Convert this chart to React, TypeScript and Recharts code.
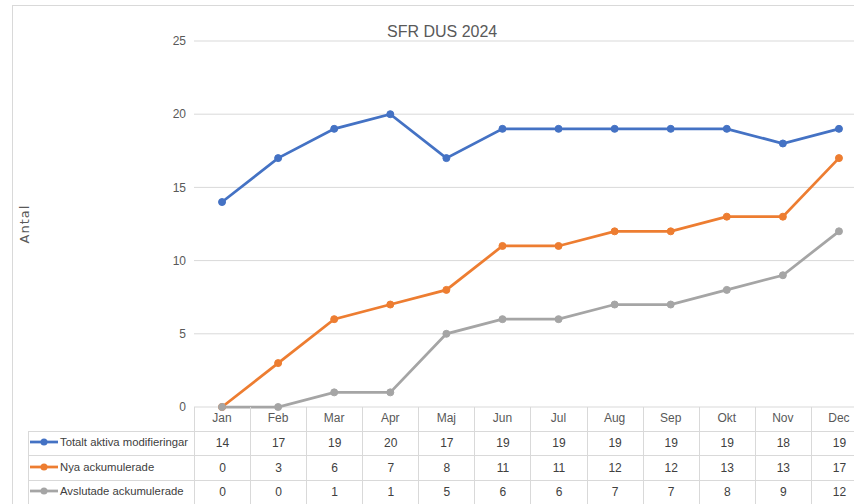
import { CartesianGrid, Line, LineChart, XAxis, YAxis } from 'recharts';

const months = ['Jan', 'Feb', 'Mar', 'Apr', 'Maj', 'Jun', 'Jul', 'Aug', 'Sep', 'Okt', 'Nov', 'Dec'];
const totalt = [14, 17, 19, 20, 17, 19, 19, 19, 19, 19, 18, 19];
const nya = [0, 3, 6, 7, 8, 11, 11, 12, 12, 13, 13, 17];
const avslutade = [0, 0, 1, 1, 5, 6, 6, 7, 7, 8, 9, 12];
const yTicks = [0, 5, 10, 15, 20, 25];

const seriesList = [
    { key: 'totalt', name: 'Totalt aktiva modifieringar', color: '#4472C4', values: totalt },
    { key: 'nya', name: 'Nya ackumulerade', color: '#ED7D31', values: nya },
    { key: 'avslutade', name: 'Avslutade ackumulerade', color: '#A5A5A5', values: avslutade },
];

const data = months.map((m, i) => ({
    month: m,
    totalt: totalt[i],
    nya: nya[i],
    avslutade: avslutade[i],
}));

const font = "'Liberation Sans', Arial, sans-serif";
const textColor = '#595959';
const gridColor = '#d9d9d9';

// plot area: left 194, right 867, top 41, bottom 407
const plotLeft = 194;
const plotRight = 867;
const plotTop = 41;
const plotBottom = 407;
const chartWidth = 870;
const band = (plotRight - plotLeft) / months.length;
const rowH = 24.5;

function App() {
    return (
        <div
            style={{
                position: 'absolute',
                left: 0,
                top: 0,
                width: 854,
                height: 504,
                overflow: 'hidden',
                background: '#fff',
                fontFamily: font,
            }}
        >
            <div
                style={{
                    position: 'absolute',
                    left: 12,
                    top: 5,
                    width: 900,
                    height: 600,
                    borderLeft: `1px solid ${gridColor}`,
                    borderTop: `1px solid ${gridColor}`,
                }}
            />
            <LineChart
                width={chartWidth}
                height={504}
                data={data}
                margin={{ top: plotTop, bottom: 504 - plotBottom - 24, left: 0, right: chartWidth - plotRight }}
                style={{ position: 'absolute', left: 0, top: 0 }}
            >
                <CartesianGrid vertical={false} stroke={gridColor} strokeWidth={1} />
                <XAxis
                    dataKey="month"
                    axisLine={false}
                    tickLine={false}
                    tickSize={0}
                    tickMargin={6}
                    height={24}
                    padding={{ left: band / 2, right: band / 2 }}
                    tick={{ fill: textColor, fontSize: 12, fontFamily: font }}
                    interval={0}
                />
                <YAxis
                    width={plotLeft}
                    domain={[0, 25]}
                    ticks={yTicks}
                    axisLine={false}
                    tickLine={false}
                    tick={{ fill: textColor, fontSize: 12, fontFamily: font }}
                    label={{
                        value: 'Antal',
                        angle: -90,
                        position: 'insideLeft',
                        offset: 24,
                        style: {
                            fill: textColor,
                            fontSize: 13,
                            letterSpacing: 1,
                            fontFamily: 'DejaVu Sans, sans-serif',
                            textAnchor: 'middle',
                        },
                    }}
                />
                {seriesList.map((s) => (
                    <Line
                        key={s.key}
                        dataKey={s.key}
                        name={s.name}
                        stroke={s.color}
                        strokeWidth={2.75}
                        dot={{ r: 3.5, fill: s.color, stroke: s.color, strokeWidth: 1 }}
                        isAnimationActive={false}
                    />
                ))}
            </LineChart>

            <div
                style={{
                    position: 'absolute',
                    left: 387,
                    top: 23,
                    fontSize: 16,
                    color: textColor,
                    fontFamily: font,
                }}
            >
                SFR DUS 2024
            </div>

            <table
                style={{
                    position: 'absolute',
                    left: 28,
                    top: plotBottom,
                    borderCollapse: 'collapse',
                    tableLayout: 'fixed',
                    width: plotLeft - 28 + band * months.length,
                    fontSize: 12,
                    color: '#404040',
                    fontFamily: font,
                }}
            >
                <colgroup>
                    <col style={{ width: plotLeft - 28 }} />
                    {months.map((m) => (
                        <col key={m} style={{ width: band }} />
                    ))}
                </colgroup>
                <tbody>
                    <tr style={{ height: 24 }}>
                        <td style={{ padding: 0, borderBottom: `1px solid ${gridColor}` }} />
                        {months.map((m) => (
                            <td
                                key={m}
                                style={{
                                    padding: 0,
                                    borderLeft: `1px solid ${gridColor}`,
                                    borderBottom: `1px solid ${gridColor}`,
                                }}
                            />
                        ))}
                    </tr>
                    {seriesList.map((s) => (
                        <tr key={s.key} style={{ height: rowH }}>
                            <td
                                style={{
                                    padding: 0,
                                    border: `1px solid ${gridColor}`,
                                    whiteSpace: 'nowrap',
                                    overflow: 'hidden',
                                }}
                            >
                                <span style={{ display: 'inline-flex', alignItems: 'center' }}>
                                    <svg width={30} height={10} style={{ marginLeft: 1 }}>
                                        <line x1={0} y1={5} x2={28} y2={5} stroke={s.color} strokeWidth={2.75} />
                                        <circle cx={14} cy={5} r={3.5} fill={s.color} />
                                    </svg>
                                    <span style={{ marginLeft: 0, fontSize: 11.3 }}>{s.name}</span>
                                </span>
                            </td>
                            {s.values.map((v, i) => (
                                <td
                                    key={i}
                                    style={{
                                        padding: 0,
                                        textAlign: 'center',
                                        border: `1px solid ${gridColor}`,
                                    }}
                                >
                                    {v}
                                </td>
                            ))}
                        </tr>
                    ))}
                </tbody>
            </table>
        </div>
    );
}

export default App;
